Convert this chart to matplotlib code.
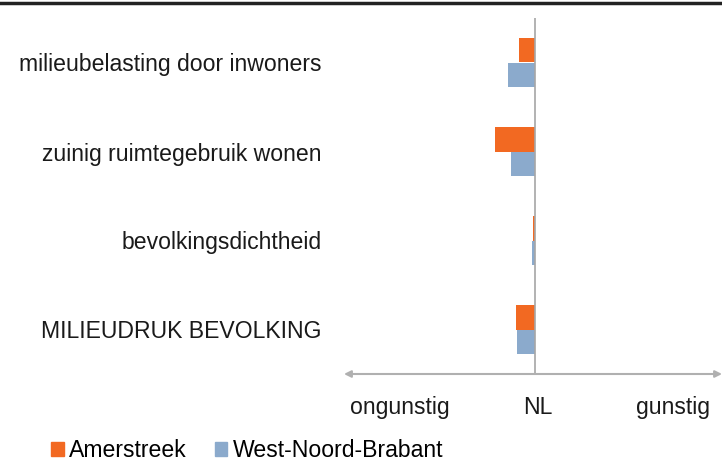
import numpy as np
import matplotlib.pyplot as plt
from matplotlib.patches import Rectangle
from matplotlib.lines import Line2D

plt.rcParams['font.family'] = ['Liberation Sans', 'DejaVu Sans']

categories = ['milieubelasting door inwoners', 'zuinig ruimtegebruik wonen',
              'bevolkingsdichtheid', 'MILIEUDRUK BEVOLKING']
amerstreek = [-0.17, -0.42, -0.02, -0.20]
west_nb = [-0.28, -0.25, -0.03, -0.19]
series_names = ['Amerstreek', 'West-Noord-Brabant']
colors = ['#F26922', '#8BAACC']
scale_labels = ['ongunstig', 'NL', 'gunstig']
scale_pos = [-1.42, 0.03, 1.45]

fs = 16.6

fig = plt.figure(figsize=(7.22, 4.62), dpi=100)
ax = fig.add_axes([344 / 722, 1 - 374 / 462, 378 / 722, 356 / 462])

y = np.arange(len(categories))
h = 0.28
ax.barh(y - h / 2, amerstreek, height=h, color=colors[0])
ax.barh(y + h / 2, west_nb, height=h, color=colors[1])
ax.set_ylim(3.5, -0.5)
ax.set_xlim(-2.01, 1.97)

ax.axvline(0, color='#a6a6a6', lw=1.2)
for s in ax.spines.values():
    s.set_visible(False)

# double arrow as the x axis
ax.annotate('', xy=(0, 0), xycoords='axes fraction', xytext=(1, 0), textcoords='axes fraction',
            arrowprops=dict(arrowstyle='<|-|>', color='#b0b0b0', lw=1.5,
                            shrinkA=0, shrinkB=0, mutation_scale=10))

ax.set_yticks(y, categories, fontsize=fs, color='#1a1a1a')
ax.set_xticks(scale_pos, scale_labels, fontsize=fs, color='#1a1a1a')
ax.tick_params(axis='y', length=0, pad=16)
ax.tick_params(axis='x', length=0, pad=16)

# top rule
fig.add_artist(Line2D([0, 1], [1 - 3 / 462, 1 - 3 / 462], color='#222222', lw=2.5))

handles = [Rectangle((0, 0), 1, 1, color=c) for c in colors]
fig.legend(handles, series_names, loc='lower left', bbox_to_anchor=(37 / 722, -0.03),
           ncol=2, frameon=False, fontsize=fs, handlelength=0.55, handleheight=0.55,
           handletextpad=0.25, columnspacing=1.2, borderaxespad=0.2)

fig.savefig('out.png', dpi=100)
